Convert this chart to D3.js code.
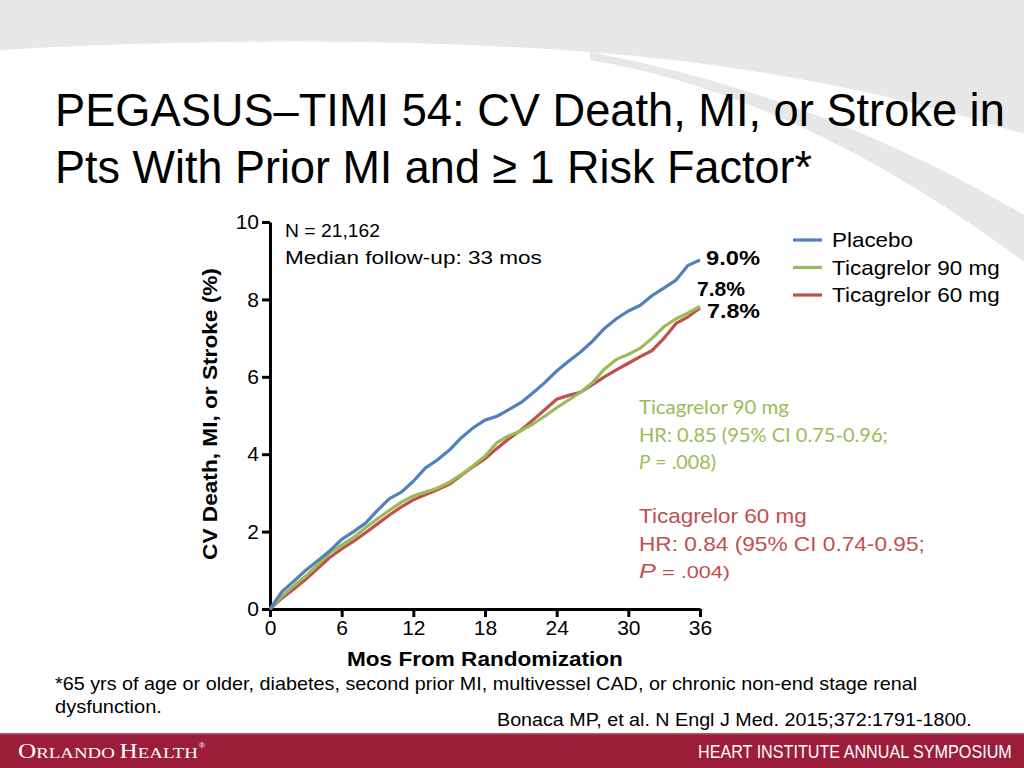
<!DOCTYPE html>
<html><head><meta charset="utf-8">
<script src="https://cdn.jsdelivr.net/npm/d3@7"></script>
<style>
html,body{margin:0;padding:0;background:#fff;}
svg{display:block;}
</style></head>
<body>
<script>
// ---- data ----
const months = [0,1,2,3,4,5,6,7,8,9,10,11,12,13,14,15,16,17,18,19,20,21,22,23,24,25,26,27,28,29,30,31,32,33,34,35,36];
const placebo = [0,0.45,0.72,1.0,1.25,1.5,1.8,2.0,2.22,2.55,2.85,3.02,3.3,3.64,3.85,4.1,4.42,4.68,4.88,4.98,5.15,5.33,5.58,5.85,6.15,6.4,6.64,6.92,7.25,7.5,7.7,7.85,8.1,8.3,8.5,8.88,9.02];
const tica90 = [0,0.33,0.6,0.85,1.15,1.45,1.65,1.85,2.1,2.33,2.55,2.76,2.92,3.02,3.12,3.27,3.47,3.7,3.95,4.3,4.48,4.6,4.78,4.98,5.2,5.4,5.6,5.85,6.2,6.45,6.58,6.74,7.0,7.3,7.5,7.65,7.82];
const tica60 = [0,0.28,0.52,0.77,1.05,1.33,1.55,1.75,1.97,2.2,2.43,2.64,2.82,2.95,3.08,3.22,3.45,3.68,3.88,4.15,4.4,4.62,4.88,5.15,5.42,5.52,5.6,5.8,6.0,6.18,6.35,6.52,6.68,7.0,7.38,7.55,7.78];
const seriesNames = ["Placebo","Ticagrelor 90 mg","Ticagrelor 60 mg"];
const seriesColors = ["#4f81bd","#9bbb59","#c0504d"];
const endLabels = ["9.0%","7.8%","7.8%"];
const xTicks = [0,6,12,18,24,30,36];
const yTicks = [0,2,4,6,8,10];

const W = 1024, H = 768;
const svg = d3.select("body").append("svg").attr("width", W).attr("height", H);
const font = "'Liberation Sans', Arial, sans-serif";

// place a text so that it spans width w starting at x (baseline y), by horizontal scaling
function fit(sel, x, y, w, extra) {
  sel.attr("x", 0).attr("y", 0);
  const n = sel.node().getComputedTextLength();
  sel.attr("transform", `translate(${x},${y})${extra||""} scale(${(w/n).toFixed(4)},1)`);
  return sel;
}
function txt(parent, str, size, opts) {
  const t = parent.append("text").attr("font-family", (opts && opts.family) || font).attr("font-size", size);
  if (opts && opts.bold) t.attr("font-weight", "bold");
  if (opts && opts.fill) t.attr("fill", opts.fill);
  if (str !== null) t.text(str);
  return t;
}

// background swoosh
svg.append("path").attr("fill","#e7e7e7")
  .attr("d","M0,0 H1024 V134 Q820,70 590,52 Q320,32 0,50 Z");
svg.append("path").attr("fill","#e7e7e7")
  .attr("d","M590,52 Q820,95 1024,215 V262 Q800,95 590,60 Z");

// title
fit(txt(svg, "PEGASUS\u2013TIMI 54: CV Death, MI, or Stroke in", 47), 55, 126, 950);
fit(txt(svg, "Pts With Prior MI and \u2265 1 Risk Factor*", 47), 55, 183, 757);

// scales
const x = d3.scaleLinear().domain([0,36]).range([270,700]);
const y = d3.scaleLinear().domain([0,10]).range([609,222]);

// axes
const yAxis = svg.append("g").attr("transform","translate(270,0)")
  .call(d3.axisLeft(y).tickValues(yTicks).tickSize(8).tickSizeOuter(0).tickPadding(3));
const xAxis = svg.append("g").attr("transform","translate(0,609)")
  .call(d3.axisBottom(x).tickValues(xTicks).tickSize(8).tickSizeOuter(0).tickPadding(3));
[yAxis,xAxis].forEach(a=>{
  a.select(".domain").attr("stroke","#000").attr("stroke-width",3);
  a.selectAll(".tick line").attr("stroke","#000").attr("stroke-width",3);
  a.selectAll(".tick text").attr("font-family",font).attr("font-size",21).attr("fill","#000");
});

// lines
const allSeries = [placebo, tica90, tica60];
const line = d3.line().x((d,i)=>x(months[i])).y(d=>y(d)).curve(d3.curveLinear);
[2,1,0].forEach(k=>{
  svg.append("path").datum(allSeries[k]).attr("fill","none")
    .attr("stroke",seriesColors[k]).attr("stroke-width",3.2).attr("stroke-linejoin","round")
    .attr("d",line);
});

// end labels
const endPos = [[706,265,54],[697,296,48],[707,318,53]];
endLabels.forEach((t,i)=>{
  fit(txt(svg, t, 20, {bold:true}), endPos[i][0], endPos[i][1], endPos[i][2]);
});

// N / follow-up
fit(txt(svg, "N = 21,162", 19), 285, 237, 95);
fit(txt(svg, "Median follow-up: 33 mos", 19), 285, 264, 257);

// legend
const legW = [81,168,168];
seriesNames.forEach((n,i)=>{
  const ly = 240 + i*27.5;
  svg.append("line").attr("x1",793).attr("x2",822).attr("y1",ly).attr("y2",ly)
    .attr("stroke",seriesColors[i]).attr("stroke-width",3.2);
  fit(txt(svg, n, 20), 832, ly+7, legW[i]);
});

// axis titles
fit(txt(svg, "Mos From Randomization", 21, {bold:true}), 347, 666, 276);
{
  const t = txt(svg, "CV Death, MI, or Stroke (%)", 21, {bold:true});
  t.attr("x",0).attr("y",0);
  const n = t.node().getComputedTextLength();
  t.attr("text-anchor","middle")
   .attr("transform",`translate(217,414) rotate(-90) scale(${(292/n).toFixed(4)},1)`);
}

// HR annotations
const green = "#9bbb59", red = "#c0504d";
const fam90 = {family:"Lato, 'Open Sans', sans-serif", fill:green};
fit(txt(svg, "Ticagrelor 90 mg", 19, fam90), 639, 414, 150);
fit(txt(svg, "HR: 0.85 (95% CI 0.75-0.96;", 19, fam90), 639, 442, 249);
{
  const t = txt(svg, null, 19, fam90);
  t.append("tspan").attr("font-style","italic").text("P");
  t.append("tspan").text(" = .008)");
  fit(t, 639, 469, 77);
}
fit(txt(svg, "Ticagrelor 60 mg", 20, {fill:red}), 639, 523, 168);
fit(txt(svg, "HR: 0.84 (95% CI 0.74-0.95;", 20, {fill:red}), 639, 551, 286);
{
  const t = txt(svg, null, 20, {fill:red});
  t.append("tspan").attr("font-style","italic").text("P");
  t.append("tspan").attr("font-size",17).text(" = .004)");
  fit(t, 639, 578, 91);
}

// footnote and citation
fit(txt(svg, "*65 yrs of age or older, diabetes, second prior MI, multivessel CAD, or chronic non-end stage renal", 17.5), 55, 690, 863);
fit(txt(svg, "dysfunction.", 17.5), 55, 713, 107);
fit(txt(svg, "Bonaca MP, et al. N Engl J Med. 2015;372:1791-1800.", 17.5), 497, 726, 475);

// footer band
svg.append("rect").attr("x",0).attr("y",733).attr("width",W).attr("height",35).attr("fill","#9c1d39");
svg.append("rect").attr("x",0).attr("y",733).attr("width",W).attr("height",1.5).attr("fill","#b8576c");
{
  const oh = txt(svg, null, 15, {family:"'Liberation Serif', serif", fill:"#fff"});
  oh.append("tspan").attr("font-size",20).text("O");
  oh.append("tspan").text("RLANDO ");
  oh.append("tspan").attr("font-size",20).text("H");
  oh.append("tspan").text("EALTH");
  fit(oh, 18, 758, 180);
}
txt(svg, "\u00ae", 8, {fill:"#fff"}).attr("x",199).attr("y",748);
fit(txt(svg, "HEART INSTITUTE ANNUAL SYMPOSIUM", 18, {fill:"#fff"}), 698, 758, 314);
</script>
</body></html>
